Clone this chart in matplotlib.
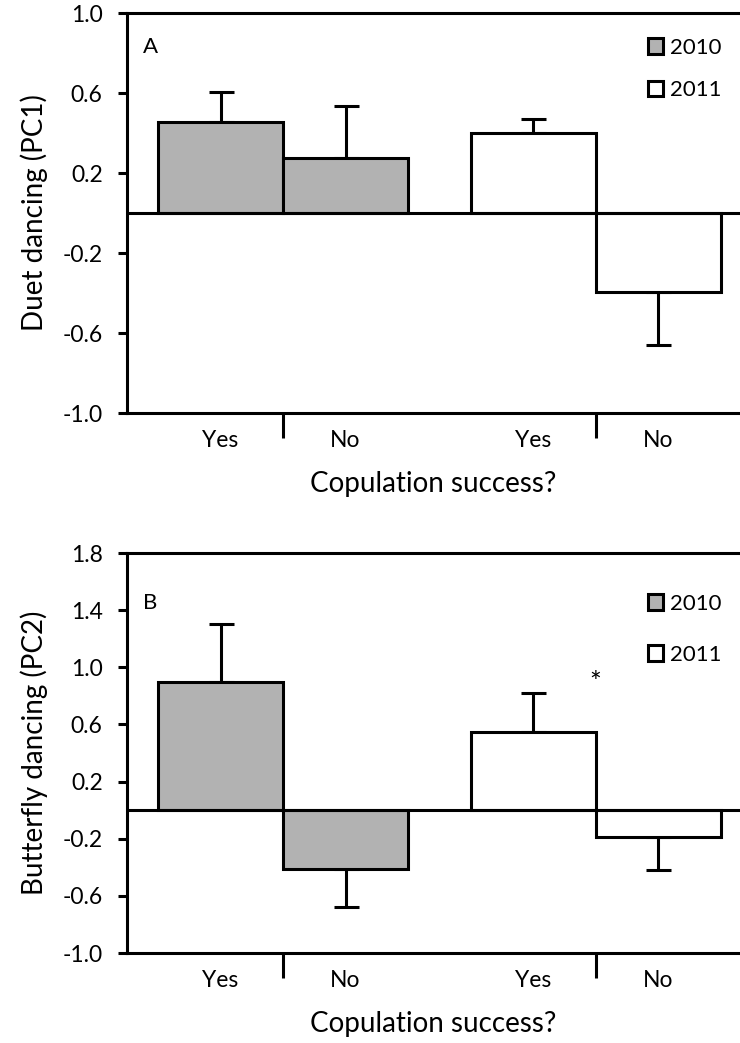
import matplotlib
matplotlib.use('Agg')
import matplotlib.pyplot as plt
from matplotlib.patches import Patch

plt.rcParams['font.family'] = ['Lato', 'DejaVu Sans']

# bar order: 2010 Yes, 2010 No, 2011 Yes, 2011 No
xlabels = ['Yes', 'No', 'Yes', 'No']
years = ['2010', '2010', '2011', '2011']
duet_mean = [0.455, 0.275, 0.40, -0.395]
duet_se = [0.15, 0.26, 0.07, 0.265]
butterfly_mean = [0.90, -0.41, 0.55, -0.19]
butterfly_se = [0.40, 0.27, 0.27, 0.23]

colors = {'2010': '#b2b2b2', '2011': 'white'}
xpos = [0, 1, 2.5, 3.5]
LW = 2.2

fig = plt.figure(figsize=(7.4, 10.43), dpi=100)
W, H = 740, 1043


def panel(rect, means, errs, ylim, yticks, ylabel, letter, leg_y, leg_space, star=None):
    left, top, right, bottom = rect
    ax = fig.add_axes([left / W, 1 - bottom / H, (right - left) / W, (bottom - top) / H])
    cols = [colors[y] for y in years]
    ax.bar(xpos, means, width=1.0, color=cols, edgecolor='black', linewidth=LW, zorder=2)
    # error bars only point away from zero
    lo = [0 if m > 0 else e for m, e in zip(means, errs)]
    hi = [e if m > 0 else 0 for m, e in zip(means, errs)]
    ax.errorbar(xpos, means, yerr=[lo, hi], fmt='none', ecolor='black',
                elinewidth=LW, capsize=9, capthick=LW, zorder=1)
    ax.axhline(0, color='black', lw=LW, zorder=3)
    ax.set_xlim(-0.748, 4.156)
    ax.set_ylim(*ylim)
    ax.set_yticks(yticks)
    ax.set_yticklabels([f'{t:.1f}' for t in yticks])
    ax.set_xticks(xpos)
    ax.set_xticklabels(xlabels)
    ax.set_xticks([0.5, 3.0], minor=True)
    ax.tick_params(axis='x', which='major', length=0, labelsize=16.5, pad=12)
    ax.tick_params(axis='x', which='minor', length=18, width=LW, direction='out')
    ax.tick_params(axis='y', length=6.5, width=LW, labelsize=16.5, pad=11)
    for s in ['left', 'top', 'bottom']:
        ax.spines[s].set_linewidth(LW)
    ax.spines['right'].set_visible(False)
    ax.set_xlabel('Copulation success?', fontsize=20, va='center')
    ax.xaxis.set_label_coords(0.5, -0.178)
    ax.set_ylabel(ylabel, fontsize=20, va='center')
    ax.yaxis.set_label_coords(-0.152, 0.5)
    ax.text(0.026, leg_y, letter, transform=ax.transAxes, fontsize=16, va='center', ha='left')
    handles = [Patch(facecolor=colors['2010'], edgecolor='black', linewidth=LW, label='2010'),
               Patch(facecolor=colors['2011'], edgecolor='black', linewidth=LW, label='2011')]
    ax.legend(handles=handles, loc='upper left', bbox_to_anchor=(0.835, leg_y + 0.045),
              frameon=False, fontsize=16, handlelength=0.7, handleheight=0.7,
              handletextpad=0.3, labelspacing=leg_space, borderaxespad=0)
    if star is not None:
        ax.text(star[0], star[1], '*', fontsize=20, ha='center', va='center')
    return ax


panel((127, 13, 740, 413), duet_mean, duet_se, (-1.0, 1.0),
      [1.0, 0.6, 0.2, -0.2, -0.6, -1.0], 'Duet dancing (PC1)', 'A', 0.915, 1.0)
panel((127, 553, 740, 953), butterfly_mean, butterfly_se, (-1.0, 1.8),
      [1.8, 1.4, 1.0, 0.6, 0.2, -0.2, -0.6, -1.0], 'Butterfly dancing (PC2)', 'B', 0.875, 1.4,
      star=(3.0, 0.88))

fig.savefig('out.png', dpi=100)
